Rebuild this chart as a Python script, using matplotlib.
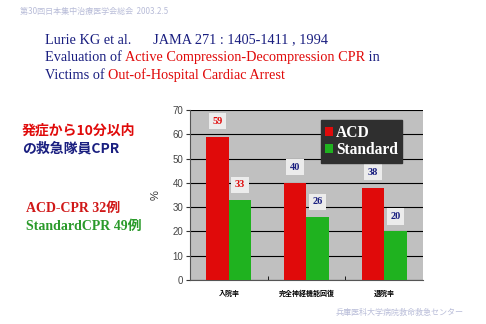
import matplotlib
matplotlib.use("Agg")
import matplotlib.pyplot as plt
from matplotlib.patches import Patch

# Outcome rates (%) by CPR method
categories = ["入院率", "完全神経機能回復", "退院率"]
acd_values = [59, 40, 38]
standard_values = [33, 26, 20]
series_names = ["ACD", "Standard"]
y_ticks = [0, 10, 20, 30, 40, 50, 60, 70]

RED = "#e00a0a"
GREEN = "#1fb21f"
NAVY = "#1a1f80"
SERIF = ["Liberation Serif", "Noto Sans CJK JP"]
SANS_JP = ["Noto Sans CJK JP", "DejaVu Sans"]

fig = plt.figure(figsize=(4.86, 3.24), dpi=100)
fig.patch.set_facecolor("white")

# Header / footer
fig.text(0.041, 0.966, "第30回日本集中治療医学会総会  2003.2.5", family=SANS_JP,
         fontsize=5.8, color="#b8bcd8", style="italic", va="center")
fig.text(0.69, 0.036, "兵庫医科大学病院救命救急センター", family=SANS_JP,
         fontsize=5.8, color="#b8bcd8", style="italic", va="center")

# Citation lines
fs_title = 10.3
y1, y2, y3 = 0.877, 0.822, 0.768
fig.text(0.092, y1, "Lurie KG et al.      JAMA 271 : 1405-1411 , 1994",
         family=SERIF, fontsize=fs_title, color=NAVY, va="center")

def colored_line(y, parts):
    x = 0.092
    renderer = fig.canvas.get_renderer()
    for txt, col in parts:
        tt = fig.text(x, y, txt, family=SERIF, fontsize=fs_title, color=col, va="center")
        bb = tt.get_window_extent(renderer=renderer)
        x += bb.width / fig.bbox.width

colored_line(y2, [("Evaluation of ", NAVY), ("Active Compression-Decompression CPR", RED),
                  (" in", NAVY)])
colored_line(y3, [("Victims of ", NAVY), ("Out-of-Hospital Cardiac Arrest", RED)])

# Left annotations
fig.text(0.045, 0.598, "発症から10分以内", family=SANS_JP, fontsize=10,
         fontweight="bold", color=RED, va="center")
fig.text(0.045, 0.542, "の救急隊員CPR", family=SANS_JP, fontsize=10,
         fontweight="bold", color=NAVY, va="center")
fig.text(0.053, 0.355, "ACD-CPR 32例", family=SERIF, fontsize=10,
         fontweight="bold", color="#d01818", va="center")
fig.text(0.053, 0.300, "StandardCPR 49例", family=SERIF, fontsize=10,
         fontweight="bold", color="#2a9a2a", va="center")

# Chart
ax = fig.add_axes([0.391, 0.136, 0.479, 0.524])
ax.set_facecolor("#c0c0c0")
x = list(range(len(categories)))
w = 0.29
ax.bar([i - w / 2 for i in x], acd_values, width=w, color=RED, zorder=3)
ax.bar([i + w / 2 for i in x], standard_values, width=w, color=GREEN, zorder=3)

ax.set_xlim(-0.5, len(categories) - 0.5)
ax.set_ylim(0, 70)
ax.set_yticks(y_ticks)
ax.yaxis.grid(True, color="black", linewidth=0.8, zorder=1)
ax.set_axisbelow(True)
ax.tick_params(axis="y", labelsize=7, length=3, pad=2, colors="#333333")
for lab in ax.get_yticklabels():
    lab.set_family(["Liberation Sans"])
    lab.set_color("#444444")
ax.set_xticks(x)
ax.set_xticklabels(categories, family=SANS_JP, fontsize=5, fontweight="bold")
ax.tick_params(axis="x", length=0, pad=7)
ax.set_xticks([0.5, 1.5], minor=True)
ax.tick_params(axis="x", which="minor", length=3, direction="in")
for s in ["top", "right"]:
    ax.spines[s].set_visible(False)
for s in ["left", "bottom"]:
    ax.spines[s].set_color("#555555")
ax.set_ylabel("%", family=["Liberation Sans"], fontsize=8, labelpad=8, color="#333333")

# Value labels
box = dict(boxstyle="square,pad=0.35", facecolor="#ececec", edgecolor="none")
for i, (a, s) in enumerate(zip(acd_values, standard_values)):
    col = RED if i == 0 else NAVY
    ax.text(i - w / 2, a + 6.5, str(a), ha="center", va="center", family=SERIF,
            fontsize=7.5, fontweight="bold", color=col, bbox=box, zorder=4)
    ax.text(i + w / 2, s + 6.2, str(s), ha="center", va="center", family=SERIF,
            fontsize=7.5, fontweight="bold", color=col, bbox=box, zorder=4)

handles = [Patch(facecolor=RED, edgecolor="none"), Patch(facecolor=GREEN, edgecolor="none")]
leg = ax.legend(handles, series_names, loc="upper right", bbox_to_anchor=(0.945, 0.985),
                frameon=True, fancybox=False, facecolor="#2f2f2f", edgecolor="#2f2f2f",
                framealpha=1, handlelength=0.5, handleheight=0.5, handletextpad=0.2,
                borderpad=0.28, labelspacing=0.1,
                prop={"family": "Liberation Serif", "weight": "bold", "size": 11.2})
for txt in leg.get_texts():
    txt.set_color("white")

fig.savefig("out.png", dpi=100, facecolor="white")
